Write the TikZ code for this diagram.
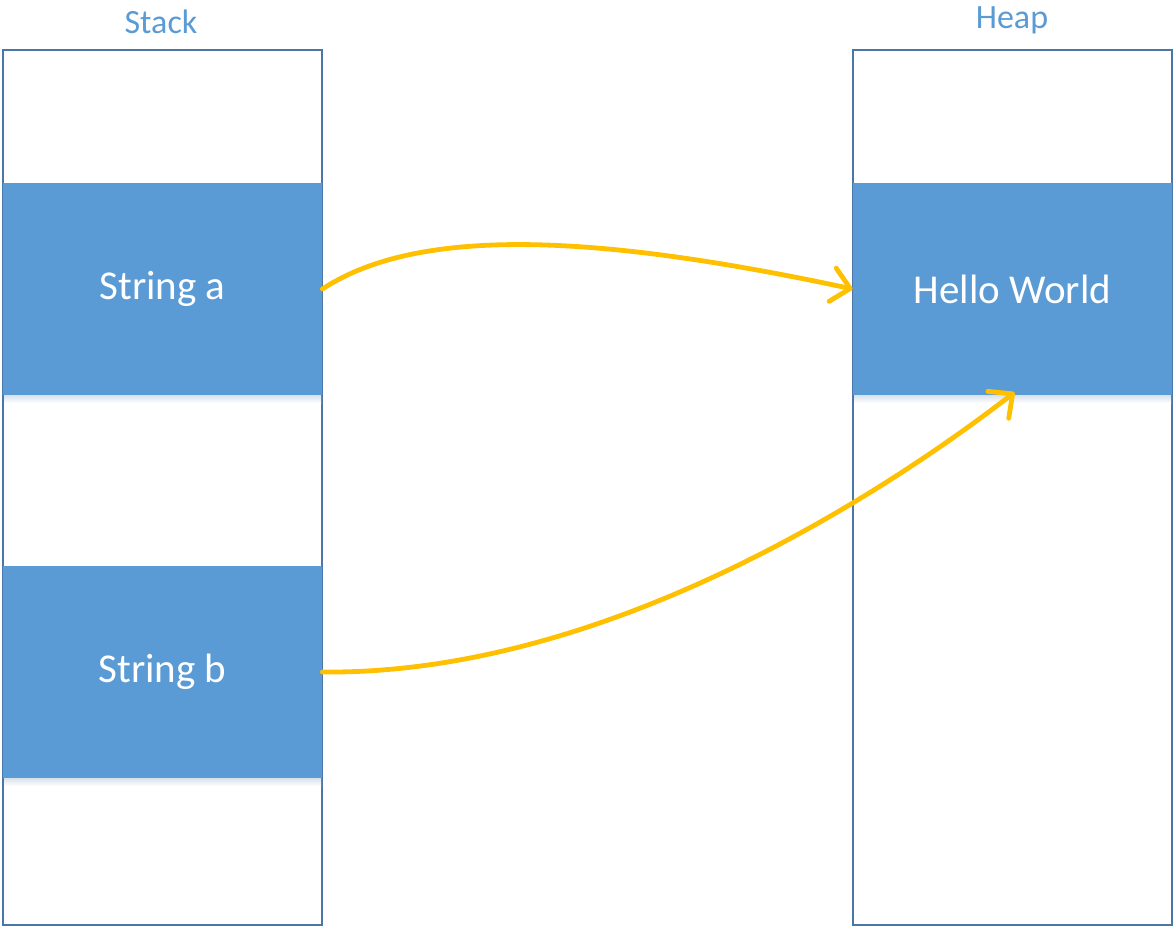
\documentclass[tikz,border=0pt]{standalone}
\usepackage{fontspec}
\setmainfont{Carlito}
\usetikzlibrary{arrows.meta}
\definecolor{boxblue}{HTML}{5B9BD5}
\definecolor{edgeblue}{HTML}{4A76A8}
\definecolor{arrowgold}{HTML}{FFC000}
\begin{document}
\begin{tikzpicture}[x=0.5pt,y=-0.5pt,
  column/.style={draw=edgeblue,line width=0.7pt,fill=white,minimum width=159.5pt,minimum height=437.5pt,inner sep=0pt},
  cell/.style={fill=boxblue,minimum width=159.5pt,minimum height=106pt,inner sep=0pt,text=white,font=\fontsize{20.5pt}{24pt}\selectfont},
  title/.style={text=boxblue,font=\fontsize{17pt}{20pt}\selectfont,inner sep=0pt},
  shade/.style={top color=edgeblue!22,bottom color=white},
  ref/.style={draw=arrowgold,line width=2.4pt,line cap=round,line join=round,-{Straight Barb[length=9pt,width=17pt,line cap=round,line join=round]}}
]
\useasboundingbox (0,0) rectangle (1174,926);
\node[column] (stack) at (162.5,487.5) {};
\node[column] (heap) at (1012.5,487.5) {};
\node[title] (stacklbl) at (161,22) {Stack};
\node[title] (heaplbl) at (1012,20) {Heap};
\shade[shade] (4,395) rectangle (321,403);
\shade[shade] (4,778) rectangle (321,786);
\shade[shade] (854,395) rectangle (1171,403);
\node[cell] (a) at (162.5,289) {String a};
\node[cell] (b) at (162.5,672) {String b};
\node[cell] (hello) at (1012.5,289) {Hello World};
\draw[ref] (a.east) .. controls (420,225) and (600,235) .. (hello.west);
\draw[ref] (b.east) .. controls (600,675) and (875,500) .. ([xshift=1pt,yshift=1.5pt]hello.south);
\end{tikzpicture}
\end{document}
